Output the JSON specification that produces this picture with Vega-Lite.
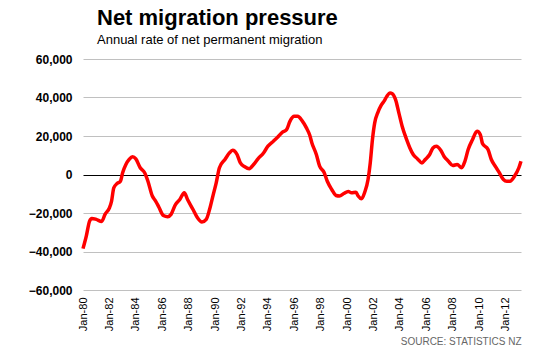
{
  "$schema": "https://vega.github.io/schema/vega-lite/v6.json",
  "width": 438,
  "height": 231,
  "autosize": "none",
  "padding": {"left": 83, "top": 59, "right": 29, "bottom": 60},
  "background": "white",
  "title": {
    "text": "Net migration pressure",
    "subtitle": "Annual rate of net permanent migration",
    "anchor": "start",
    "frame": "group",
    "dx": 14,
    "offset": 5,
    "font": "Liberation Sans, Arial, sans-serif",
    "fontSize": 22,
    "fontWeight": "bold",
    "color": "#000000",
    "subtitleFont": "Liberation Sans, Arial, sans-serif",
    "subtitleFontSize": 13,
    "subtitleColor": "#000000",
    "subtitlePadding": 4
  },
  "config": {
    "view": {"stroke": null},
    "font": "Liberation Sans, Arial, sans-serif"
  },
  "data": {
    "values": [
      {"date": "1980-01-01", "value": -38500},
      {"date": "1980-04-01", "value": -32000},
      {"date": "1980-07-01", "value": -24200},
      {"date": "1980-09-01", "value": -22800},
      {"date": "1981-01-01", "value": -23300},
      {"date": "1981-06-01", "value": -24400},
      {"date": "1981-09-01", "value": -20700},
      {"date": "1982-01-01", "value": -17300},
      {"date": "1982-03-01", "value": -13800},
      {"date": "1982-05-01", "value": -6900},
      {"date": "1982-08-01", "value": -4700},
      {"date": "1982-11-01", "value": -3500},
      {"date": "1983-01-01", "value": 900},
      {"date": "1983-04-01", "value": 5200},
      {"date": "1983-07-01", "value": 7800},
      {"date": "1983-10-01", "value": 9200},
      {"date": "1984-01-01", "value": 8100},
      {"date": "1984-05-01", "value": 3500},
      {"date": "1984-09-01", "value": 900},
      {"date": "1984-12-01", "value": -3500},
      {"date": "1985-04-01", "value": -11200},
      {"date": "1985-07-01", "value": -13800},
      {"date": "1985-10-01", "value": -17000},
      {"date": "1986-02-01", "value": -21300},
      {"date": "1986-06-01", "value": -21900},
      {"date": "1986-09-01", "value": -20700},
      {"date": "1987-01-01", "value": -15600},
      {"date": "1987-05-01", "value": -13000},
      {"date": "1987-09-01", "value": -9500},
      {"date": "1987-12-01", "value": -13000},
      {"date": "1988-05-01", "value": -18200},
      {"date": "1988-09-01", "value": -22500},
      {"date": "1989-01-01", "value": -24700},
      {"date": "1989-05-01", "value": -23300},
      {"date": "1989-08-01", "value": -18200},
      {"date": "1989-11-01", "value": -11200},
      {"date": "1990-02-01", "value": -4300},
      {"date": "1990-05-01", "value": 3500},
      {"date": "1990-10-01", "value": 7800},
      {"date": "1991-02-01", "value": 11200},
      {"date": "1991-05-01", "value": 12600},
      {"date": "1991-09-01", "value": 10400},
      {"date": "1991-12-01", "value": 6000},
      {"date": "1992-04-01", "value": 4000},
      {"date": "1992-08-01", "value": 3000},
      {"date": "1992-12-01", "value": 5200},
      {"date": "1993-04-01", "value": 8100},
      {"date": "1993-09-01", "value": 11200},
      {"date": "1994-01-01", "value": 14700},
      {"date": "1994-06-01", "value": 17300},
      {"date": "1994-10-01", "value": 19500},
      {"date": "1995-02-01", "value": 21900},
      {"date": "1995-06-01", "value": 23300},
      {"date": "1995-09-01", "value": 27600},
      {"date": "1996-01-01", "value": 30200},
      {"date": "1996-04-01", "value": 30200},
      {"date": "1996-08-01", "value": 28000},
      {"date": "1996-12-01", "value": 24200},
      {"date": "1997-03-01", "value": 20500},
      {"date": "1997-05-01", "value": 16400},
      {"date": "1997-09-01", "value": 10400},
      {"date": "1997-12-01", "value": 4300},
      {"date": "1998-04-01", "value": 1200},
      {"date": "1998-07-01", "value": -3500},
      {"date": "1998-11-01", "value": -7800},
      {"date": "1999-03-01", "value": -10900},
      {"date": "1999-06-01", "value": -11200},
      {"date": "1999-10-01", "value": -9900},
      {"date": "2000-02-01", "value": -8800},
      {"date": "2000-05-01", "value": -9500},
      {"date": "2000-09-01", "value": -9200},
      {"date": "2000-11-01", "value": -11200},
      {"date": "2001-02-01", "value": -12600},
      {"date": "2001-05-01", "value": -9200},
      {"date": "2001-08-01", "value": -2600},
      {"date": "2001-10-01", "value": 6000},
      {"date": "2001-12-01", "value": 18200},
      {"date": "2002-02-01", "value": 26800},
      {"date": "2002-05-01", "value": 32300},
      {"date": "2002-08-01", "value": 36000},
      {"date": "2002-11-01", "value": 38500},
      {"date": "2003-01-01", "value": 40600},
      {"date": "2003-04-01", "value": 42400},
      {"date": "2003-06-01", "value": 42000},
      {"date": "2003-09-01", "value": 38900},
      {"date": "2003-12-01", "value": 32000},
      {"date": "2004-03-01", "value": 25100},
      {"date": "2004-07-01", "value": 18200},
      {"date": "2004-10-01", "value": 13800},
      {"date": "2005-01-01", "value": 10400},
      {"date": "2005-05-01", "value": 8100},
      {"date": "2005-09-01", "value": 6000},
      {"date": "2005-12-01", "value": 7800},
      {"date": "2006-04-01", "value": 10400},
      {"date": "2006-07-01", "value": 13800},
      {"date": "2006-10-01", "value": 14700},
      {"date": "2007-02-01", "value": 12600},
      {"date": "2007-05-01", "value": 9500},
      {"date": "2007-09-01", "value": 6900},
      {"date": "2008-01-01", "value": 4700},
      {"date": "2008-05-01", "value": 5200},
      {"date": "2008-09-01", "value": 3500},
      {"date": "2008-12-01", "value": 6900},
      {"date": "2009-03-01", "value": 13000},
      {"date": "2009-07-01", "value": 18200},
      {"date": "2009-11-01", "value": 22500},
      {"date": "2010-02-01", "value": 20700},
      {"date": "2010-04-01", "value": 16100},
      {"date": "2010-09-01", "value": 13000},
      {"date": "2010-12-01", "value": 7800},
      {"date": "2011-04-01", "value": 4000},
      {"date": "2011-07-01", "value": 1200},
      {"date": "2011-11-01", "value": -2600},
      {"date": "2012-02-01", "value": -3500},
      {"date": "2012-05-01", "value": -3500},
      {"date": "2012-09-01", "value": -900},
      {"date": "2013-01-01", "value": 3500},
      {"date": "2013-03-01", "value": 6900}
    ]
  },
  "mark": {"type": "line", "color": "#ff0000", "strokeWidth": 3.5, "interpolate": "monotone"},
  "encoding": {
    "x": {
      "field": "date",
      "type": "temporal",
      "scale": {"domain": ["1980-01-01", "2013-03-01"], "nice": false},
      "axis": {
        "values": ["1980-01-01", "1982-01-01", "1984-01-01", "1986-01-01", "1988-01-01", "1990-01-01", "1992-01-01", "1994-01-01", "1996-01-01", "1998-01-01", "2000-01-01", "2002-01-01", "2004-01-01", "2006-01-01", "2008-01-01", "2010-01-01", "2012-01-01"],
        "format": "%b-%y",
        "labelAngle": 270,
        "labelAlign": "right",
        "labelBaseline": "middle",
        "labelFontSize": 11,
        "labelColor": "#000000",
        "labelPadding": 7,
        "labelFlush": false,
        "labelOverlap": false,
        "grid": false,
        "domain": false,
        "ticks": false,
        "title": "SOURCE: STATISTICS NZ",
        "titleAnchor": "end",
        "titleAlign": "right",
        "titleFontSize": 10,
        "titleFontWeight": "normal",
        "titleColor": "#666666",
        "titlePadding": 6
      }
    },
    "y": {
      "field": "value",
      "type": "quantitative",
      "scale": {"domain": [-60000, 60000], "nice": false},
      "axis": {
        "values": [-60000, -40000, -20000, 0, 20000, 40000, 60000],
        "format": ",d",
        "labelFontSize": 12,
        "labelFontWeight": "bold",
        "labelColor": "#000000",
        "labelPadding": 11,
        "labelOverlap": false,
        "labelFlush": false,
        "grid": true,
        "gridColor": {"condition": {"test": "datum.value === 0", "value": "#000000"}, "value": "#c0c0c0"},
        "gridWidth": 1,
        "domain": false,
        "ticks": false,
        "title": null
      }
    }
  }
}
